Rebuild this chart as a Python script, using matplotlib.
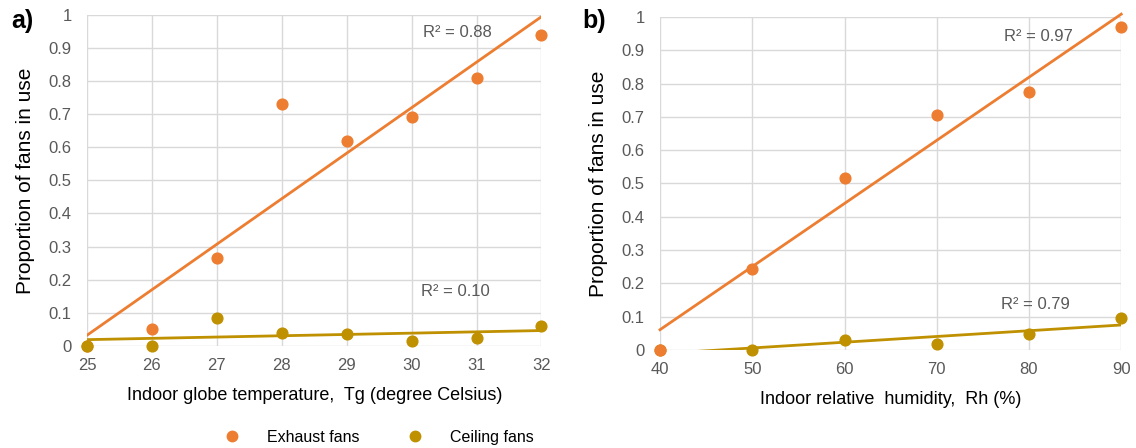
import matplotlib.pyplot as plt
import numpy as np
from matplotlib.ticker import FuncFormatter

# Data ------------------------------------------------------------------------
tg = [25, 26, 27, 28, 29, 30, 31, 32]
tg_exhaust = [0.0, 0.05, 0.265, 0.73, 0.62, 0.69, 0.81, 0.94]
tg_ceiling = [0.0, 0.0, 0.085, 0.04, 0.035, 0.015, 0.025, 0.06]

rh = [40, 50, 60, 70, 80, 90]
rh_exhaust = [0.0, 0.243, 0.515, 0.705, 0.775, 0.97]
rh_ceiling = [0.0, 0.0, 0.03, 0.018, 0.047, 0.095]

r2_labels = {'a_exh': 'R² = 0.88', 'a_ceil': 'R² = 0.10',
             'b_exh': 'R² = 0.97', 'b_ceil': 'R² = 0.79'}

exh_color = '#ED7D31'
ceil_color = '#BF9000'
grid_color = '#D9D9D9'
tick_color = '#595959'

plt.rcParams['font.family'] = ['Liberation Sans', 'DejaVu Sans']

fig = plt.figure(figsize=(11.36, 4.48), dpi=100)
ax1 = fig.add_axes([0.0766, 0.228, 0.400, 0.739])
ax2 = fig.add_axes([0.581, 0.219, 0.406, 0.743])


def style_axis(ax, xlim, xticks):
    ax.set_xlim(*xlim)
    ax.set_ylim(0, 1)
    ax.set_xticks(xticks)
    ax.set_yticks(np.arange(0, 1.01, 0.1))
    ax.yaxis.set_major_formatter(FuncFormatter(lambda v, p: '%g' % round(v, 1)))
    ax.grid(True, color=grid_color, linewidth=1)
    ax.set_axisbelow(True)
    for s in ax.spines.values():
        s.set_visible(False)
    ax.tick_params(axis='y', length=0, labelsize=12, colors=tick_color, pad=11)
    ax.tick_params(axis='x', length=0, labelsize=12, colors=tick_color, pad=9)
    ax.set_ylabel('Proportion of fans in use', fontsize=15, labelpad=10)


def trend(ax, x, y, color, clip=True):
    # linear trendline through the series
    k, b = np.polyfit(x, y, 1)
    xs = np.array([min(x), max(x)], dtype=float)
    ax.plot(xs, k * xs + b, color=color, linewidth=2, clip_on=clip, zorder=2)


# Panel a ---------------------------------------------------------------------
style_axis(ax1, (25, 32), tg)
trend(ax1, tg, tg_exhaust, exh_color)
trend(ax1, tg, tg_ceiling, ceil_color)
ax1.scatter(tg, tg_exhaust, s=60, color=exh_color, zorder=3, clip_on=False)
ax1.scatter(tg, tg_ceiling, s=60, color=ceil_color, zorder=3, clip_on=False)
ax1.set_xlabel('Indoor globe temperature,  Tg (degree Celsius)', fontsize=13, labelpad=10)
ax1.text(30.18, 0.946, r2_labels['a_exh'], color=tick_color, fontsize=12, va='center')
ax1.text(30.15, 0.163, r2_labels['a_ceil'], color=tick_color, fontsize=12, va='center')

# Panel b ---------------------------------------------------------------------
style_axis(ax2, (40, 90), rh)
trend(ax2, rh, rh_exhaust, exh_color, clip=False)
trend(ax2, rh, rh_ceiling, ceil_color)
ax2.scatter(rh, rh_ceiling, s=60, color=ceil_color, zorder=3, clip_on=False)
ax2.scatter(rh, rh_exhaust, s=60, color=exh_color, zorder=3, clip_on=False)
ax2.set_xlabel('Indoor relative  humidity,  Rh (%)', fontsize=13, labelpad=10)
ax2.text(77.3, 0.94, r2_labels['b_exh'], color=tick_color, fontsize=12, va='center')
ax2.text(77.0, 0.135, r2_labels['b_ceil'], color=tick_color, fontsize=12, va='center')

# Panel letters
fig.text(0.010, 0.953, 'a)', fontsize=18, fontweight='bold', va='center')
fig.text(0.513, 0.953, 'b)', fontsize=18, fontweight='bold', va='center')

# Legend
h1 = plt.Line2D([], [], marker='o', linestyle='', color=exh_color, markersize=7.5)
h2 = plt.Line2D([], [], marker='o', linestyle='', color=ceil_color, markersize=7.5)
fig.legend([h1, h2], ['Exhaust fans', 'Ceiling fans'], loc='center',
           bbox_to_anchor=(375 / 1136, 1 - 437 / 448), ncol=2, frameon=False,
           fontsize=11.5, columnspacing=2.5, handletextpad=1.2)

plt.savefig('out.png', dpi=100)
